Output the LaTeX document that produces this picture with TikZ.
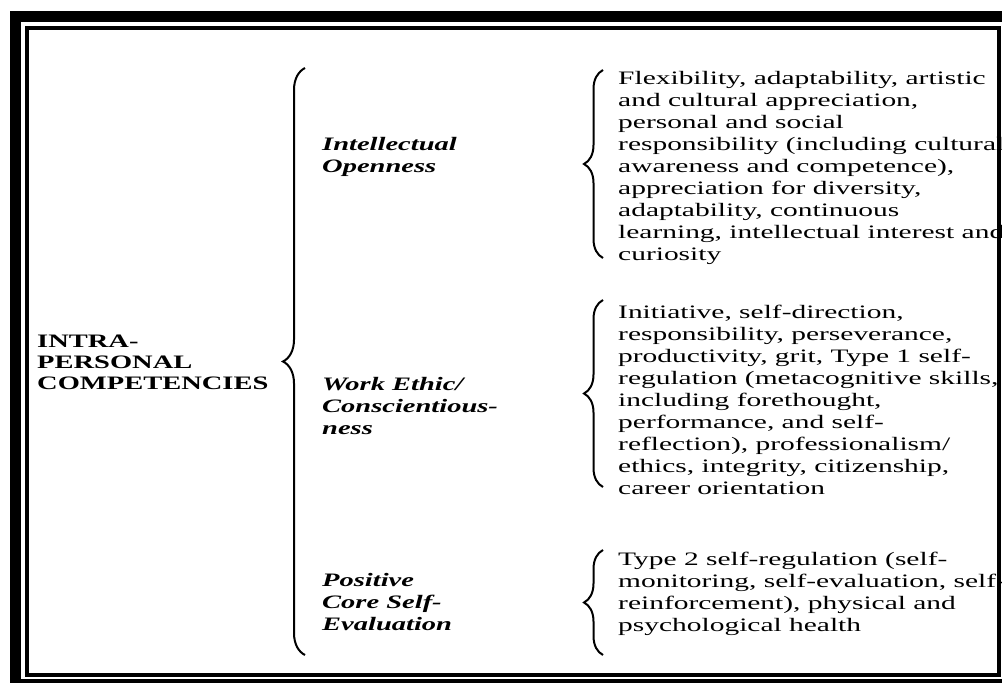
\documentclass[tikz,border=0pt]{standalone}
\usepackage{fontspec}
\setmainfont[FakeStretch=1.5]{Liberation Serif}
\newfontfamily\itemfont[FakeStretch=1.55]{Liberation Serif}
\usetikzlibrary{decorations.pathreplacing}
\begin{document}
\begin{tikzpicture}[x=1pt, y=-1pt, head node/.style={anchor=base west,inner sep=0pt,align=left,font=\fontsize{19}{21}\selectfont\bfseries}, group node/.style={anchor=base west,inner sep=0pt,align=left,font=\fontsize{19}{22}\selectfont\bfseries\itshape}, item node/.style={anchor=base west,inner sep=0pt,align=left,font=\itemfont\fontsize{19}{22}\selectfont}, brace line/.style={decorate,decoration={brace,amplitude=#1},line width=2pt}]
\useasboundingbox (0,0) rectangle (1002,683);
% last baselines
\node[head node] (intra) at (37,389) {INTRA-\\PERSONAL\\COMPETENCIES};
\node[group node] (open) at (322,172) {Intellectual\\Openness};
\node[group node] (work) at (322,434) {Work Ethic/\\Conscientious-\\ness};
\node[group node] (core) at (322,630) {Positive\\Core Self-\\Evaluation};
\node[item node] (openlist) at (618,260) {Flexibility, adaptability, artistic\\and cultural appreciation,\\personal and social\\responsibility (including cultural\\awareness and competence),\\appreciation for diversity,\\adaptability, continuous\\learning, intellectual interest and\\curiosity};
\node[item node] (worklist) at (618,494) {Initiative, self-direction,\\responsibility, perseverance,\\productivity, grit, Type 1 self-\\regulation (metacognitive skills,\\including forethought,\\performance, and self-\\reflection), professionalism/\\ethics, integrity, citizenship,\\career orientation};
\node[item node] (corelist) at (618,631) {Type 2 self-regulation (self-\\monitoring, self-evaluation, self-\\reinforcement), physical and\\psychological health};
% braces
\coordinate (b0s) at (305,655);
\coordinate (b0e) at (305,68);
\coordinate (b1s) at (603,258);
\coordinate (b1e) at (603,70);
\coordinate (b2s) at (603,487);
\coordinate (b2e) at (603,300);
\coordinate (b3s) at (603,655);
\coordinate (b3e) at (603,550);
\draw[brace line=22] (b0s) -- (b0e);
\draw[brace line=19] (b1s) -- (b1e);
\draw[brace line=19] (b2s) -- (b2e);
\draw[brace line=19] (b3s) -- (b3e);
% frame
\draw[line width=11pt] (15.5,16.5) rectangle (1008,684.5);
\draw[line width=4pt] (27,28) rectangle (999,675);
\end{tikzpicture}
\end{document}
